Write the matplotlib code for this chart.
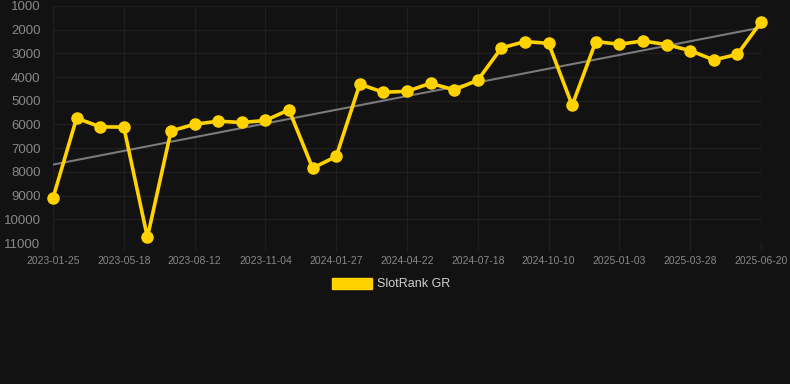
import matplotlib.pyplot as plt
import numpy as np

# rank values, one point per period (category axis)
ranks = [9100, 5730, 6100, 6110, 10760, 6270, 5990, 5860, 5915, 5830,
         5380, 7840, 7350, 4300, 4640, 4600, 4260, 4540, 4130, 2770,
         2500, 2575, 5190, 2500, 2615, 2475, 2630, 2880, 3275, 3040, 1675]

# labels shown on every 3rd point
tick_labels = ["2023-01-25", "2023-05-18", "2023-08-12", "2023-11-04",
               "2024-01-27", "2024-04-22", "2024-07-18", "2024-10-10",
               "2025-01-03", "2025-03-28", "2025-06-20"]

y_ticks = [1000, 2000, 3000, 4000, 5000, 6000, 7000, 8000, 9000, 10000, 11000]

bg = "#121212"
yellow = "#FFD200"
grid_col = "#1f1f1f"

plt.rcParams['font.family'] = ['Liberation Sans', 'DejaVu Sans']

fig = plt.figure(figsize=(7.9, 3.84), dpi=100, facecolor=bg)
ax = fig.add_axes([53 / 790, 1 - 243 / 384, (761 - 53) / 790, (243 - 6) / 384])
ax.set_facecolor(bg)

x = np.arange(len(ranks))

# linear trend over the series
k, b = np.polyfit(x, ranks, 1)
ax.plot([x[0], x[-1]], [k * x[0] + b, k * x[-1] + b], color="#7a7a7a", lw=1.5, zorder=2)

ax.plot(x, ranks, color=yellow, lw=2.6, marker="o", ms=8, zorder=3,
        clip_on=False, label="SlotRank GR")

ax.set_xlim(0, len(ranks) - 1)
ax.set_ylim(11000, 1000)
ax.set_yticks(y_ticks)
ax.set_yticklabels([str(v) for v in y_ticks])
ax.set_xticks(x[::3])
ax.set_xticklabels(tick_labels)

ax.grid(True, color=grid_col, lw=1)
ax.set_axisbelow(True)
for s in ax.spines.values():
    s.set_visible(False)

ax.tick_params(axis="y", length=0, pad=9, labelsize=9.5, labelcolor="#888888")
ax.tick_params(axis="x", length=6, width=1, color=grid_col, pad=3,
               labelsize=7.5, labelcolor="#888888")

leg = fig.legend(handles=[plt.Rectangle((0, 0), 1, 1, color=yellow)],
                 labels=["SlotRank GR"], loc="center", bbox_to_anchor=(0.495, 1 - 284 / 384),
                 frameon=False, fontsize=9, handlelength=3.2, handleheight=0.96,
                 handletextpad=0.45)
for t in leg.get_texts():
    t.set_color("#d0d0d0")

fig.savefig("out.png", dpi=100, facecolor=bg)
